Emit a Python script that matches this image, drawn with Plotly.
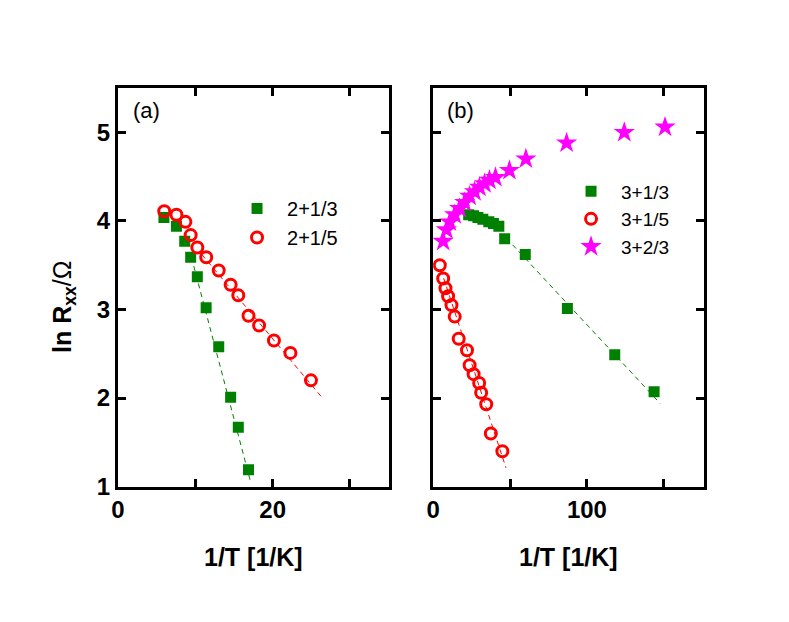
import plotly.graph_objects as go

# ---------------- data ----------------
# Panel (a)
a_x_213 = [5.94, 7.56, 8.63, 9.40, 10.26, 11.40, 13.03, 14.57, 15.56, 16.88]
a_y_213 = [4.04, 3.94, 3.77, 3.59, 3.37, 3.02, 2.58, 2.01, 1.67, 1.19]
a_x_215 = [5.98, 7.56, 8.72, 9.40, 10.26, 11.41, 13.03, 14.57, 15.56, 16.88, 18.25, 20.17, 22.30, 24.96]
a_y_215 = [4.11, 4.07, 3.99, 3.84, 3.70, 3.59, 3.44, 3.28, 3.16, 2.93, 2.82, 2.65, 2.51, 2.20]
fit_a_213_x = [9.8, 17.1]
fit_a_213_y = [3.49, 1.07]
fit_a_215_x = [10.86, 26.45]
fit_a_215_y = [3.62, 2.00]

# Panel (b)
b_x_313 = [23.1, 26.3, 29.1, 32.3, 36.2, 39.2, 42.7, 46.5, 59.9, 87.3, 118.1, 143.7]
b_y_313 = [4.07, 4.06, 4.04, 4.02, 3.99, 3.97, 3.94, 3.80, 3.62, 3.01, 2.49, 2.07]
b_x_315 = [4.3, 6.5, 8.0, 9.7, 11.9, 14.0, 16.6, 22.0, 23.7, 26.3, 29.9, 31.2, 34.5, 37.5, 45.0]
b_y_315 = [3.50, 3.35, 3.24, 3.15, 3.05, 2.92, 2.67, 2.54, 2.37, 2.27, 2.17, 2.06, 1.93, 1.60, 1.40]
b_x_323 = [6.5, 8.6, 10.8, 14.0, 17.2, 20.5, 23.7, 26.9, 30.1, 33.4, 36.6, 40.5, 49.6, 60.3, 86.8, 124.3, 150.8]
b_y_323 = [3.77, 3.90, 3.99, 4.07, 4.14, 4.21, 4.28, 4.33, 4.38, 4.42, 4.46, 4.49, 4.57, 4.70, 4.88, 5.00, 5.06]
fit_b_313_x = [51.7, 147.6]
fit_b_313_y = [3.73, 1.94]
fit_b_315_x = [5.0, 47.4]
fit_b_315_y = [3.45, 1.21]

labels_a = ["2+1/3", "2+1/5"]
labels_b = ["3+1/3", "3+1/5", "3+2/3"]
xtick_a_vals = [0, 10, 20, 30]
xtick_a_text = ["0", "", "20", ""]
xtick_b_vals = [0, 50, 100, 150]
xtick_b_text = ["0", "", "100", ""]
ytick_vals = [1, 2, 3, 4, 5]
ytick_text = ["1", "2", "3", "4", "5"]

GREEN = "#008000"
RED = "#ff0000"
MAGENTA = "#ff00ff"
W, H = 789, 622
FONT = "Liberation Sans, Arial, sans-serif"

fig = go.Figure()

def sq(x, y, name, xa, ya, leg):
    return go.Scatter(x=x, y=y, mode="markers", name=name, xaxis=xa, yaxis=ya, legend=leg,
                      marker=dict(symbol="square", size=11, color=GREEN, line=dict(width=0)))

def circ(x, y, name, xa, ya, leg):
    return go.Scatter(x=x, y=y, mode="markers", name=name, xaxis=xa, yaxis=ya, legend=leg,
                      marker=dict(symbol="circle-open", size=11, color=RED, line=dict(width=3, color=RED)))

def fit(x, y, color, xa, ya):
    return go.Scatter(x=x, y=y, mode="lines", showlegend=False, xaxis=xa, yaxis=ya,
                      line=dict(color=color, width=1, dash="5px,4px"), hoverinfo="skip")

# panel a
fig.add_trace(fit(fit_a_213_x, fit_a_213_y, GREEN, "x", "y"))
fig.add_trace(fit(fit_a_215_x, fit_a_215_y, RED, "x", "y"))
fig.add_trace(sq(a_x_213, a_y_213, labels_a[0], "x", "y", "legend"))
fig.add_trace(circ(a_x_215, a_y_215, labels_a[1], "x", "y", "legend"))

# panel b
fig.add_trace(fit(fit_b_313_x, fit_b_313_y, GREEN, "x2", "y2"))
fig.add_trace(fit(fit_b_315_x, fit_b_315_y, RED, "x2", "y2"))
fig.add_trace(sq(b_x_313, b_y_313, labels_b[0], "x2", "y2", "legend2"))
fig.add_trace(circ(b_x_315, b_y_315, labels_b[1], "x2", "y2", "legend2"))
fig.add_trace(go.Scatter(x=b_x_323, y=b_y_323, mode="markers", name=labels_b[2], xaxis="x2", yaxis="y2",
                         legend="legend2",
                         marker=dict(symbol="star", size=16, color=MAGENTA, line=dict(width=0))))

ax_common = dict(showline=True, linecolor="black", linewidth=3, mirror="ticks",
                 ticks="inside", ticklen=8, tickwidth=3, tickcolor="black",
                 showgrid=False, zeroline=False,
                 tickfont=dict(family=FONT, size=24, color="black", weight="bold"))

ydom = [1 - 497 / H, 1 - 90 / H]
fig.update_layout(
    width=W, height=H,
    margin=dict(l=0, r=0, t=0, b=0),
    paper_bgcolor="white", plot_bgcolor="white",
    font=dict(family=FONT, color="black"),
    xaxis=dict(domain=[112 / W, 385 / W], range=[0, 35], tickmode="array",
               tickvals=xtick_a_vals, ticktext=xtick_a_text, anchor="y", **ax_common),
    yaxis=dict(domain=ydom, range=[1, 5.5], tickmode="array",
               tickvals=ytick_vals, ticktext=ytick_text, anchor="x", **ax_common),
    xaxis2=dict(domain=[430 / W, 703 / W], range=[0, 176], tickmode="array",
                tickvals=xtick_b_vals, ticktext=xtick_b_text, anchor="y2", **ax_common),
    yaxis2=dict(domain=ydom, range=[1, 5.5], tickmode="array",
                tickvals=ytick_vals, showticklabels=False, anchor="x2", **ax_common),
    legend=dict(x=222 / W, y=1 - 193 / H, xanchor="left", yanchor="top",
                bgcolor="rgba(0,0,0,0)", font=dict(family=FONT, size=20, color="black"),
                itemwidth=50, tracegroupgap=0),
    legend2=dict(x=559 / W, y=1 - 176 / H, xanchor="left", yanchor="top",
                 bgcolor="rgba(0,0,0,0)", font=dict(family=FONT, size=19, color="black"),
                 itemwidth=50, tracegroupgap=0),
    showlegend=True,
)

annots = [
    dict(text="(a)", x=125 / W, y=1 - 113 / H, xanchor="left", yanchor="middle",
         font=dict(size=22, family=FONT)),
    dict(text="(b)", x=442 / W, y=1 - 113 / H, xanchor="left", yanchor="middle",
         font=dict(size=22, family=FONT)),
    dict(text="<b>1/T [1/K]</b>", x=249 / W, y=1 - 569 / H, xanchor="center", yanchor="middle",
         font=dict(size=25, family=FONT)),
    dict(text="<b>1/T [1/K]</b>", x=567 / W, y=1 - 569 / H, xanchor="center", yanchor="middle",
         font=dict(size=25, family=FONT)),
    dict(text="<b>ln R<sub>xx</sub></b>/Ω", x=58 / W, y=1 - 313 / H, xanchor="center", yanchor="middle",
         textangle=-90, font=dict(size=25, family=FONT)),
]
for a in annots:
    fig.add_annotation(xref="paper", yref="paper", showarrow=False, **a)

fig.write_html("out.html", config={"displayModeBar": False},
               post_script="document.body.style.margin='0';document.body.style.padding='0';")
